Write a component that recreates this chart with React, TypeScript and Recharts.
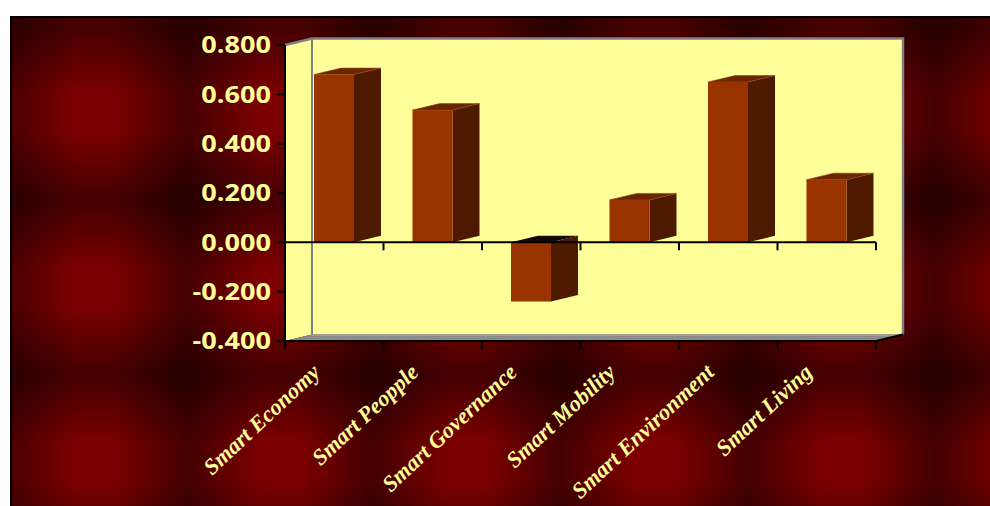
import React from 'react';
import { BarChart, Bar, XAxis, YAxis, CartesianGrid, ReferenceArea, ReferenceLine } from 'recharts';

const categories = ['Smart Economy', 'Smart Peopple', 'Smart Governance', 'Smart Mobility', 'Smart Environment', 'Smart Living'];
const scores = [0.68, 0.536, -0.24, 0.172, 0.65, 0.254];
const yTicks = [-0.4, -0.2, 0, 0.2, 0.4, 0.6, 0.8];

const data = categories.map((name, i) => ({ name, value: scores[i] }));

// fake 3D depth of the Excel column chart
const DX = 27;
const DY = 6.5;
const WALL = '#FFFF99';

const Walls = ({ x, y, width, height }: any) => {
  const b = y + height;
  return (
    <g>
      <polygon points={`${x},${y} ${x + DX},${y - DY} ${x + DX},${b - DY} ${x},${b}`} fill={WALL} />
      <rect x={x + DX} y={y - DY} width={width} height={height} fill={WALL} />
    </g>
  );
};

const Edges = ({ x, y, width, height }: any) => {
  const r = x + width;
  const b = y + height;
  return (
    <g>
      <polygon points={`${x},${b} ${x + DX},${b - DY} ${r + DX},${b - DY} ${r},${b}`} fill="#8c8c8c" />
      <line x1={x + DX} y1={b - DY + 0.5} x2={r + DX} y2={b - DY + 0.5} stroke="#b4b4b4" strokeWidth={1} />
      <polyline
        points={`${x},${y} ${x + DX},${y - DY} ${r + DX},${y - DY} ${r + DX},${b - DY}`}
        stroke="#808080"
        strokeWidth={2.5}
        fill="none"
      />
      <line x1={x + DX} y1={y - DY} x2={x + DX} y2={b - DY} stroke="#808080" strokeWidth={2} />
      <line x1={r} y1={b} x2={r + DX} y2={b - DY} stroke="#000" strokeWidth={2} />
    </g>
  );
};

const gridLine = (p: any) => {
  const { x1, y1, x2 } = p;
  return (
    <g key={p.key}>
      <line x1={x1} y1={y1} x2={x1 + DX} y2={y1 - DY} stroke="#000" strokeWidth={2} />
      <line x1={x1 + DX} y1={y1 - DY} x2={x2 + DX} y2={y1 - DY} stroke="#000" strokeWidth={2} />
    </g>
  );
};

const Box = (p: any) => {
  const { x, y, width, height, payload } = p;
  const top = Math.min(y, y + height);
  const bottom = Math.max(y, y + height);
  const r = x + width;
  const neg = payload.value < 0;
  return (
    <g>
      <polygon
        points={`${r},${top} ${r + DX},${top - DY} ${r + DX},${bottom - DY} ${r},${bottom}`}
        fill="#4d1a00"
      />
      <polygon
        points={`${x},${top} ${x + DX},${top - DY} ${r + DX},${top - DY} ${r},${top}`}
        fill={neg ? '#140600' : '#6b2500'}
        stroke={neg ? 'none' : '#8a4a1a'}
        strokeWidth={0.6}
      />
      <rect x={x} y={top} width={width} height={bottom - top} fill="#993300" />
    </g>
  );
};

const ZeroAxis = (p: any) => {
  const { x1, y1, x2 } = p;
  const step = (x2 - x1) / categories.length;
  return (
    <g>
      <line x1={x1} y1={y1} x2={x2} y2={y1} stroke="#000" strokeWidth={2} />
      {categories.map((_, i) => (
        <line key={i} x1={x1 + step * (i + 1)} y1={y1} x2={x1 + step * (i + 1)} y2={y1 + 8} stroke="#000" strokeWidth={2} />
      ))}
    </g>
  );
};

const ValTick = (p: any) => {
  const { x, y, payload } = p;
  return (
    <text
      transform={`translate(${x},${y}) scale(1.18,1)`}
      textAnchor="end"
      dy="0.36em"
      fill="#FFFF99"
      fontFamily="'Open Sans', sans-serif"
      fontWeight={700}
      fontSize={23}
    >
      {Number(payload.value).toFixed(3)}
    </text>
  );
};

const CatTick = (p: any) => {
  const { x, y, payload, index, visibleTicksCount } = p;
  const half = payload.offset;
  const lx = x - 13;
  const ly = y + 33;
  const last = index === (visibleTicksCount ?? categories.length) - 1;
  return (
    <g>
      <line x1={x - half} y1={y} x2={x - half} y2={y + 8} stroke="#000" strokeWidth={2} />
      {last && <line x1={x + half} y1={y} x2={x + half} y2={y + 8} stroke="#000" strokeWidth={2} />}
      <text
        x={lx}
        y={ly}
        transform={`rotate(-43, ${lx}, ${ly})`}
        textAnchor="end"
        fill="#FFFF99"
        fontFamily="'Liberation Serif', 'Times New Roman', serif"
        fontStyle="italic"
        fontWeight={700}
        fontSize={22.5}
      >
        {payload.value}
      </text>
    </g>
  );
};

export default function App() {
  return (
    <div
      style={{
        position: 'absolute',
        left: 10,
        top: 16,
        width: 980,
        height: 490,
        backgroundImage:
          'linear-gradient(to bottom, #8c8c8c 0%, #ffffff 40%, #ffffff 60%, #8c8c8c 100%), linear-gradient(to right, #440000 0%, #7c0000 40%, #7c0000 60%, #440000 100%)',
        backgroundBlendMode: 'multiply',
        backgroundSize: '187px 175px',
        backgroundPosition: '-10px 9px',
        boxShadow: 'inset 2px 2px 0 #000',
      }}
    >
      <BarChart width={980} height={490} data={data} margin={{ top: 29, right: 114, bottom: 0, left: 0 }} barSize={40}>
        <ReferenceArea y1={-0.4} y2={0.8} shape={<Walls />} />
        <CartesianGrid horizontal={gridLine} vertical={false} />
        <ReferenceArea y1={-0.4} y2={0.8} shape={<Edges />} />
        <XAxis
          dataKey="name"
          height={165}
          interval={0}
          tickSize={0}
          tickMargin={0}
          tickLine={false}
          axisLine={{ stroke: '#000', strokeWidth: 2 }}
          tick={<CatTick />}
        />
        <YAxis
          width={275}
          domain={[-0.4, 0.8]}
          ticks={yTicks}
          interval={0}
          allowDataOverflow
          tickSize={8}
          tickMargin={6}
          axisLine={{ stroke: '#000', strokeWidth: 2 }}
          tickLine={{ stroke: '#000', strokeWidth: 2 }}
          tick={<ValTick />}
        />
        <Bar dataKey="value" shape={<Box />} isAnimationActive={false} />
        <ReferenceLine y={0} shape={<ZeroAxis />} />
      </BarChart>
    </div>
  );
}
